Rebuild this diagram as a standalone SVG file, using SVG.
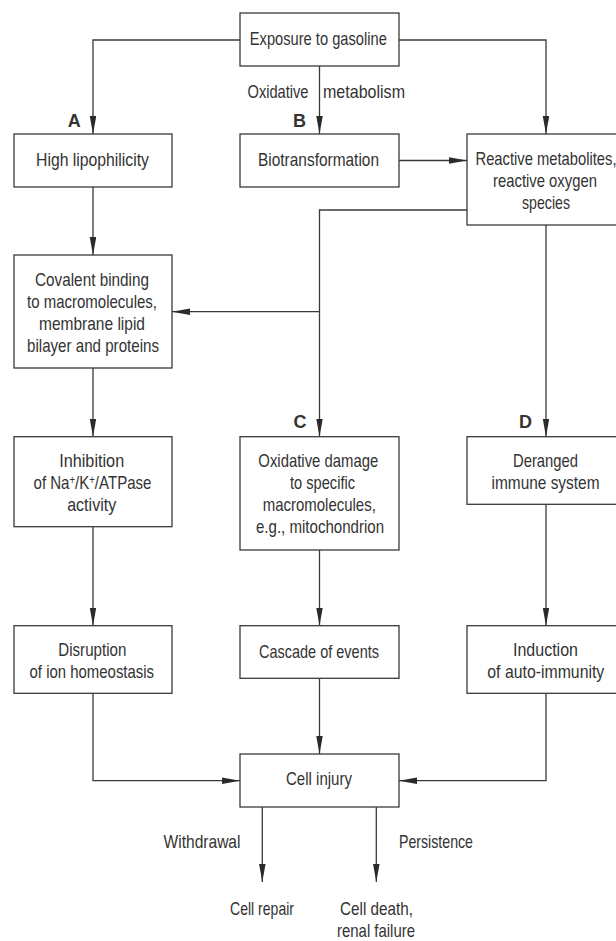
<svg xmlns="http://www.w3.org/2000/svg" width="616" height="941" viewBox="0 0 616 941">
<defs>
<marker id="ah" markerWidth="18" markerHeight="7" refX="18" refY="3.25" orient="auto" markerUnits="userSpaceOnUse">
<path d="M0,0 L18,3.25 L0,6.5 z" fill="#2a2a2a"/>
</marker>
<style>
.box{fill:#fff;stroke:#3a3a3a;stroke-width:1.3}
.t{font-family:"Liberation Sans Narrow","Liberation Sans",Arial,sans-serif;font-size:19px;fill:#333;text-anchor:middle}
.l{text-anchor:start}
.r{text-anchor:end}
.b{font-weight:bold;font-size:18px}
.c{fill:none;stroke:#3a3a3a;stroke-width:1.3}
.a{marker-end:url(#ah)}
</style>
</defs>
<rect width="616" height="941" fill="#fff"/>
<g id="connectors">
<path class="c a" d="M240,40 H93 V134"/>
<path class="c a" d="M399,40 H546 V134"/>
<path class="c a" d="M319.5,66 V134"/>
<path class="c a" d="M399,160.5 H467"/>
<path class="c a" d="M93,187 V255"/>
<path class="c a" d="M467,210 H319.5 V436.7"/>
<path class="c a" d="M319.5,311.7 H172"/>
<path class="c a" d="M93,368 V436.7"/>
<path class="c a" d="M546,225 V436.7"/>
<path class="c a" d="M93,526.7 V625.7"/>
<path class="c a" d="M319.5,550 V625.7"/>
<path class="c a" d="M546,504.3 V625.7"/>
<path class="c a" d="M93,693.3 V780.7 H240"/>
<path class="c a" d="M546,693.3 V780.7 H399"/>
<path class="c a" d="M319.5,678.3 V754"/>
<path class="c a" d="M262.3,807 V882"/>
<path class="c a" d="M376.3,807 V882"/>
<text class="t r" x="308.5" y="98" textLength="61" lengthAdjust="spacingAndGlyphs">Oxidative</text>
<text class="t l" x="323" y="98" textLength="82" lengthAdjust="spacingAndGlyphs">metabolism</text>
<text class="t b" x="74.3" y="127">A</text>
<text class="t b" x="299.6" y="127">B</text>
<text class="t b" x="300" y="428">C</text>
<text class="t b" x="525.5" y="428">D</text>
<text class="t r" x="240.5" y="848" textLength="77" lengthAdjust="spacingAndGlyphs">Withdrawal</text>
<text class="t l" x="399" y="848" textLength="74" lengthAdjust="spacingAndGlyphs">Persistence</text>
</g>
<g id="exposure">
<rect class="box" x="240" y="13" width="159" height="53"/>
<text class="t" x="318.3" y="44.5" textLength="137" lengthAdjust="spacingAndGlyphs">Exposure to gasoline</text>
</g>
<g id="lipophilicity">
<rect class="box" x="14" y="134" width="158" height="53"/>
<text class="t" x="92.5" y="165.5" textLength="113" lengthAdjust="spacingAndGlyphs">High lipophilicity</text>
</g>
<g id="biotransformation">
<rect class="box" x="240" y="134" width="159" height="53"/>
<text class="t" x="318.5" y="165.5" textLength="121" lengthAdjust="spacingAndGlyphs">Biotransformation</text>
</g>
<g id="reactive">
<rect class="box" x="467" y="134" width="158" height="91"/>
<text class="t" x="546" y="165" textLength="141" lengthAdjust="spacingAndGlyphs">Reactive metabolites,</text>
<text class="t" x="545" y="187" textLength="104" lengthAdjust="spacingAndGlyphs">reactive oxygen</text>
<text class="t" x="546" y="209" textLength="48" lengthAdjust="spacingAndGlyphs">species</text>
</g>
<g id="covalent">
<rect class="box" x="14" y="255" width="158" height="113"/>
<text class="t" x="92" y="286" textLength="114" lengthAdjust="spacingAndGlyphs">Covalent binding</text>
<text class="t" x="92" y="308" textLength="130" lengthAdjust="spacingAndGlyphs">to macromolecules,</text>
<text class="t" x="92" y="330" textLength="106" lengthAdjust="spacingAndGlyphs">membrane lipid</text>
<text class="t" x="93" y="352" textLength="132" lengthAdjust="spacingAndGlyphs">bilayer and proteins</text>
</g>
<g id="inhibition">
<rect class="box" x="14" y="436.7" width="158" height="90"/>
<text class="t" x="91.7" y="466.5" textLength="65" lengthAdjust="spacingAndGlyphs">Inhibition</text>
<text class="t" x="92.5" y="489" textLength="118" lengthAdjust="spacingAndGlyphs">of Na<tspan font-size="12" dy="-5">+</tspan><tspan dy="5">/K</tspan><tspan font-size="12" dy="-5">+</tspan><tspan dy="5">/ATPase</tspan></text>
<text class="t" x="91.7" y="511" textLength="49" lengthAdjust="spacingAndGlyphs">activity</text>
</g>
<g id="oxidative-damage">
<rect class="box" x="240" y="436.7" width="159" height="113.3"/>
<text class="t" x="318.3" y="467" textLength="120" lengthAdjust="spacingAndGlyphs">Oxidative damage</text>
<text class="t" x="322.5" y="489" textLength="65" lengthAdjust="spacingAndGlyphs">to specific</text>
<text class="t" x="319.3" y="511" textLength="113" lengthAdjust="spacingAndGlyphs">macromolecules,</text>
<text class="t" x="320" y="533" textLength="128" lengthAdjust="spacingAndGlyphs">e.g., mitochondrion</text>
</g>
<g id="deranged">
<rect class="box" x="467" y="436.7" width="158" height="67.6"/>
<text class="t" x="545.5" y="466.5" textLength="65" lengthAdjust="spacingAndGlyphs">Deranged</text>
<text class="t" x="545.5" y="488.5" textLength="108" lengthAdjust="spacingAndGlyphs">immune system</text>
</g>
<g id="disruption">
<rect class="box" x="14" y="625.7" width="158" height="67.6"/>
<text class="t" x="92.3" y="655.5" textLength="68" lengthAdjust="spacingAndGlyphs">Disruption</text>
<text class="t" x="91.8" y="677.5" textLength="124.5" lengthAdjust="spacingAndGlyphs">of ion homeostasis</text>
</g>
<g id="cascade">
<rect class="box" x="240" y="625.7" width="159" height="52.6"/>
<text class="t" x="319" y="657.5" textLength="120" lengthAdjust="spacingAndGlyphs">Cascade of events</text>
</g>
<g id="induction">
<rect class="box" x="467" y="625.7" width="158" height="67.6"/>
<text class="t" x="545.5" y="655.5" textLength="65" lengthAdjust="spacingAndGlyphs">Induction</text>
<text class="t" x="545.8" y="677.5" textLength="117" lengthAdjust="spacingAndGlyphs">of auto-immunity</text>
</g>
<g id="cell-injury">
<rect class="box" x="240" y="754" width="159" height="53"/>
<text class="t" x="319" y="785" textLength="66" lengthAdjust="spacingAndGlyphs">Cell injury</text>
</g>
<g id="cell-repair">
<text class="t" x="262" y="915" textLength="64" lengthAdjust="spacingAndGlyphs">Cell repair</text>
</g>
<g id="cell-death">
<text class="t" x="376.5" y="915" textLength="73" lengthAdjust="spacingAndGlyphs">Cell death,</text>
<text class="t" x="376" y="937" textLength="78" lengthAdjust="spacingAndGlyphs">renal failure</text>
</g>
</svg>
